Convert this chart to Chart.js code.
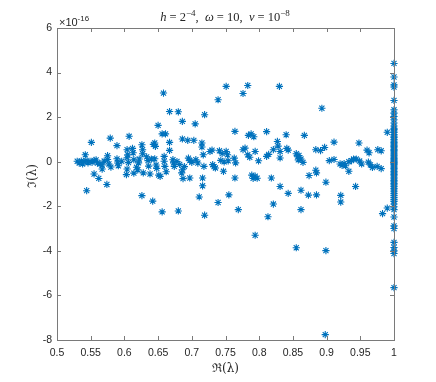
<!DOCTYPE html>
<html>
<head>
<meta charset="utf-8">
<script src="https://cdn.jsdelivr.net/npm/chart.js@4.4.1/dist/chart.umd.min.js"></script>
<style>
    html, body { margin: 0; padding: 0; background: #ffffff; }
</style>
</head>
<body>
<canvas id="graficoEspectro" width="436" height="382"></canvas>
<script>

// tick values
const xTicks = [0.5, 0.55, 0.6, 0.65, 0.7, 0.75, 0.8, 0.85, 0.9, 0.95, 1];
const yTicks = [-8, -6, -4, -2, 0, 2, 4, 6];
const yExponent = -16;

// eigenvalues, Im in units of 1e-16, grouped by band of Re
const re1 = [0.530, 0.533, 0.536, 0.538, 0.540, 0.542, 0.543, 0.544, 0.546, 0.549, 0.551, 0.552, 0.555, 0.555, 0.558, 0.560, 0.562, 0.564, 0.567, 0.567, 0.570, 0.574, 0.575, 0.575, 0.579, 0.580, 0.577];
const im1 = [0.02, -0.06, 0.03, -0.10, 0.00, 0.31, 0.05, -1.30, -0.05, 0.02, 0.87, -0.03, 0.06, -0.55, 0.08, -0.06, -0.75, -0.10, -0.33, -0.15, 0.03, -1.02, 0.27, 0.10, 1.06, -0.24, -0.10];

const re2 = [0.589, 0.589, 0.590, 0.591, 0.596, 0.603, 0.604, 0.604, 0.605, 0.604, 0.606, 0.607, 0.612, 0.613, 0.614, 0.614, 0.618, 0.620, 0.621, 0.622, 0.626, 0.626, 0.627, 0.627, 0.628];
const im2 = [0.72, 0.13, -0.06, -0.18, 0.02, -0.58, -0.33, 0.54, 0.31, 0.18, -0.04, 1.14, 0.60, 0.40, 0.09, -0.51, -0.25, -0.36, -0.05, 0.12, -1.52, 0.76, 0.54, 0.36, -0.50];

const re3 = [0.633, 0.635, 0.636, 0.638, 0.640, 0.642, 0.643, 0.645, 0.646, 0.645, 0.647, 0.648, 0.650, 0.651, 0.653, 0.656, 0.656, 0.658, 0.659, 0.659, 0.660, 0.661, 0.662, 0.667, 0.667, 0.667];
const im3 = [0.22, 0.05, -0.20, -0.55, 0.12, -1.77, 0.78, 0.84, 0.69, 0.13, -0.15, -0.30, 1.63, -0.60, -0.66, -2.25, 1.25, 3.08, 0.24, 0.02, -0.21, 1.25, -0.45, 2.25, 0.87, 0.51];

const re4 = [0.672, 0.673, 0.674, 0.678, 0.680, 0.680, 0.682, 0.685, 0.686, 0.686, 0.686, 0.687, 0.689, 0.694, 0.695, 0.697, 0.697, 0.700, 0.703, 0.705, 0.706, 0.709, 0.711, 0.715, 0.715, 0.717, 0.716, 0.716, 0.718, 0.719, 0.719];
const im4 = [0.09, -0.05, -0.21, 0.01, 2.24, -2.21, -0.12, -0.50, 1.81, 1.02, -0.36, -0.76, -0.22, 0.96, 0.16, 0.05, -0.73, -0.03, 0.96, 1.70, 0.09, -0.06, -1.58, 0.84, 0.66, 0.31, -0.73, -1.08, -0.21, 2.11, -2.40];

const re5 = [0.727, 0.730, 0.731, 0.733, 0.735, 0.739, 0.739, 0.741, 0.743, 0.745, 0.747, 0.748, 0.751, 0.751, 0.753, 0.754, 0.755, 0.763, 0.765, 0.764, 0.764, 0.769];
const im5 = [0.46, 0.52, -0.13, -0.22, -0.28, 2.78, -1.83, 0.49, 0.06, 0.37, -0.43, -0.01, 3.38, 0.46, 0.31, 0.04, -1.49, 0.16, -0.05, 1.36, -0.73, -2.15];

const re6 = [0.776, 0.783, 0.776, 0.779, 0.783, 0.786, 0.784, 0.788, 0.792, 0.789, 0.791, 0.794, 0.797, 0.794, 0.794, 0.799, 0.811, 0.811, 0.814, 0.813, 0.818, 0.821, 0.821, 0.827, 0.828, 0.831, 0.831, 0.831, 0.830];
const im6 = [3.06, 3.42, 0.54, 0.61, 0.31, 0.20, 1.18, 1.25, 1.12, -0.60, -0.75, -0.65, -0.74, 0.46, -3.30, 0.04, 1.35, 0.24, 0.33, -2.47, -0.73, -1.90, 0.54, 0.91, 0.70, 0.46, 0.17, -1.11, 3.38];

const re7 = [0.840, 0.841, 0.843, 0.843, 0.855, 0.857, 0.859, 0.858, 0.862, 0.865, 0.855, 0.862, 0.862, 0.867, 0.874, 0.873, 0.884, 0.885, 0.884, 0.885, 0.891, 0.893, 0.897, 0.899, 0.899, 0.898];
const im7 = [1.21, 0.60, 0.52, -1.42, 0.36, 0.22, 0.28, 0.08, 0.12, -0.03, -3.86, -1.28, -2.15, 1.18, -0.62, -1.50, -0.38, -0.50, 0.54, -1.49, 0.50, 2.40, 0.64, -0.92, -3.99, -7.76];

const re8 = [0.904, 0.911, 0.911, 0.920, 0.921, 0.921, 0.923, 0.926, 0.928, 0.933, 0.933, 0.937, 0.940, 0.944, 0.948, 0.949, 0.943, 0.952, 0.960, 0.963, 0.962, 0.965, 0.968, 0.976, 0.981, 0.975, 0.981, 0.983, 0.990, 0.990];
const im8 = [0.05, 0.10, 0.88, -0.10, -1.51, -1.81, -0.16, -0.08, -0.18, 0.00, -0.43, 0.05, 0.12, 0.12, 0.84, 0.03, -1.11, -0.10, 0.52, 0.40, -0.02, -0.14, -0.26, 0.54, 0.49, -0.21, -0.31, -2.33, -2.08, 1.32];

// the eigenvalues that sit on Re = 1
const colRe = 1;
const colIm = [4.41, 3.80, 3.45, 3.35, 2.75, 2.33, 2.18, 2.03, 1.88, 1.74, 1.60, 1.50, 1.45, 1.38, 1.31, 1.22, 1.15, 1.08, 1.00, 0.93, 0.87, 0.80, 0.74, 0.69, 0.62, 0.55, 0.50, 0.44, 0.38, 0.31, 0.26, 0.20, 0.14, 0.09, 0.04, 0.00, -0.03, -0.08, -0.13, -0.19, -0.25, -0.31, -0.37, -0.44, -0.50, -0.57, -0.63, -0.70, -0.77, -0.84, -0.90, -0.97, -1.04, -1.12, -1.20, -1.27, -1.35, -1.43, -1.52, -1.61, -1.70, -1.78, -1.90, -2.02, -2.15, -2.48, -2.88, -3.00, -3.62, -3.85, -4.00, -4.12, -5.65];


const bandsRe = [re1, re2, re3, re4, re5, re6, re7, re8];
const bandsIm = [im1, im2, im3, im4, im5, im6, im7, im8];

const puntos = [];
bandsRe.forEach((reArr, b) => {
    reArr.forEach((x, i) => puntos.push({ x: x, y: bandsIm[b][i] }));
});
colIm.forEach(y => puntos.push({ x: colRe, y: y }));

const colorEjes = "#262626";
const colorMarca = "#0072BD";

// draws a string made of pieces, some italic and some superscript
function textoPiezas(ctx, piezas, cx, base, size, family) {
    let total = 0;
    piezas.forEach(p => {
        const s = p.sup ? size * 0.72 : size;
        ctx.font = (p.it ? "italic " : "") + s + "px " + family;
        p.w = ctx.measureText(p.t).width;
        total += p.w;
    });
    let x = cx - total / 2;
    ctx.textAlign = "left";
    ctx.textBaseline = "alphabetic";
    piezas.forEach(p => {
        const s = p.sup ? size * 0.72 : size;
        ctx.font = (p.it ? "italic " : "") + s + "px " + family;
        ctx.fillText(p.t, x, p.sup ? base - size * 0.42 : base);
        x += p.w;
    });
}

const marcoMatlab = {
    id: "marcoMatlab",
    afterDraw(chart) {
        const ctx = chart.ctx;
        const a = chart.chartArea;
        const sx = chart.scales.x;
        const sy = chart.scales.y;
        const largo = 4;

        ctx.save();
        ctx.strokeStyle = "#7a7a7a";
        ctx.lineWidth = 1;
        ctx.strokeRect(Math.round(a.left) + 0.5, Math.round(a.top) + 0.5,
            Math.round(a.right - a.left), Math.round(a.bottom - a.top));

        ctx.beginPath();
        xTicks.forEach(v => {
            const px = Math.round(sx.getPixelForValue(v)) + 0.5;
            ctx.moveTo(px, a.bottom);
            ctx.lineTo(px, a.bottom - largo);
            ctx.moveTo(px, a.top);
            ctx.lineTo(px, a.top + largo);
        });
        yTicks.forEach(v => {
            const py = Math.round(sy.getPixelForValue(v)) + 0.5;
            ctx.moveTo(a.left, py);
            ctx.lineTo(a.left + largo, py);
            ctx.moveTo(a.right, py);
            ctx.lineTo(a.right - largo, py);
        });
        ctx.stroke();

        ctx.fillStyle = colorEjes;

        // exponent of the y axis
        textoPiezas(ctx, [{ t: "\u00d710" }, { t: String(yExponent), sup: true }],
            a.left + 17, a.top - 2, 11, "'Liberation Sans', Arial, sans-serif");

        // title
        textoPiezas(ctx, [
            { t: "h", it: true }, { t: " = 2" }, { t: "\u22124", sup: true },
            { t: ",  " }, { t: "\u03c9", it: true }, { t: " = 10,  " },
            { t: "\u03bd", it: true }, { t: " = 10" }, { t: "\u22128", sup: true }
        ], 225, 21, 12.5, "'Liberation Serif', 'DejaVu Serif', serif");

        // axis labels
        ctx.font = "12px 'DejaVu Serif', serif";
        ctx.textAlign = "center";
        ctx.textBaseline = "middle";
        ctx.fillText("\u211c(\u03bb)", (a.left + a.right) / 2, 369);

        ctx.save();
        ctx.translate(33, (a.top + a.bottom) / 2 - 8);
        ctx.rotate(-Math.PI / 2);
        ctx.fillText("\u2111(\u03bb)", 0, 0);
        ctx.restore();

        ctx.restore();
    }
};

const canvas = document.getElementById("graficoEspectro");

new Chart(canvas, {
    type: "scatter",
    data: {
        datasets: [{
            label: "lambda",
            data: puntos,
            clip: false,
            pointStyle: "star",
            radius: 3.6,
            hoverRadius: 3.6,
            borderWidth: 1.1,
            borderColor: colorMarca,
            backgroundColor: colorMarca
        }]
    },
    options: {
        responsive: false,
        animation: false,
        devicePixelRatio: 1,
        layout: {
            padding: { top: 28, right: 42, left: 0, bottom: 0 }
        },
        plugins: {
            legend: { display: false },
            tooltip: { enabled: false }
        },
        scales: {
            x: {
                type: "linear",
                min: 0.5,
                max: 1,
                afterFit: s => { s.height = 42; },
                afterBuildTicks: s => { s.ticks = xTicks.map(v => ({ value: v })); },
                ticks: {
                    color: colorEjes,
                    font: { family: "'Liberation Sans', Arial, sans-serif", size: 10.5 },
                    padding: 7,
                    maxRotation: 0,
                    autoSkip: false,
                    callback: v => String(Number(v.toFixed(2)))
                },
                grid: { display: false, drawTicks: false },
                border: { display: false }
            },
            y: {
                type: "linear",
                min: -8,
                max: 6,
                afterFit: s => { s.width = 57; },
                afterBuildTicks: s => { s.ticks = yTicks.map(v => ({ value: v })); },
                ticks: {
                    color: colorEjes,
                    font: { family: "'Liberation Sans', Arial, sans-serif", size: 10.5 },
                    padding: 5,
                    autoSkip: false,
                    callback: v => String(v)
                },
                grid: { display: false, drawTicks: false },
                border: { display: false }
            }
        }
    },
    plugins: [marcoMatlab]
});
</script>
</body>
</html>
